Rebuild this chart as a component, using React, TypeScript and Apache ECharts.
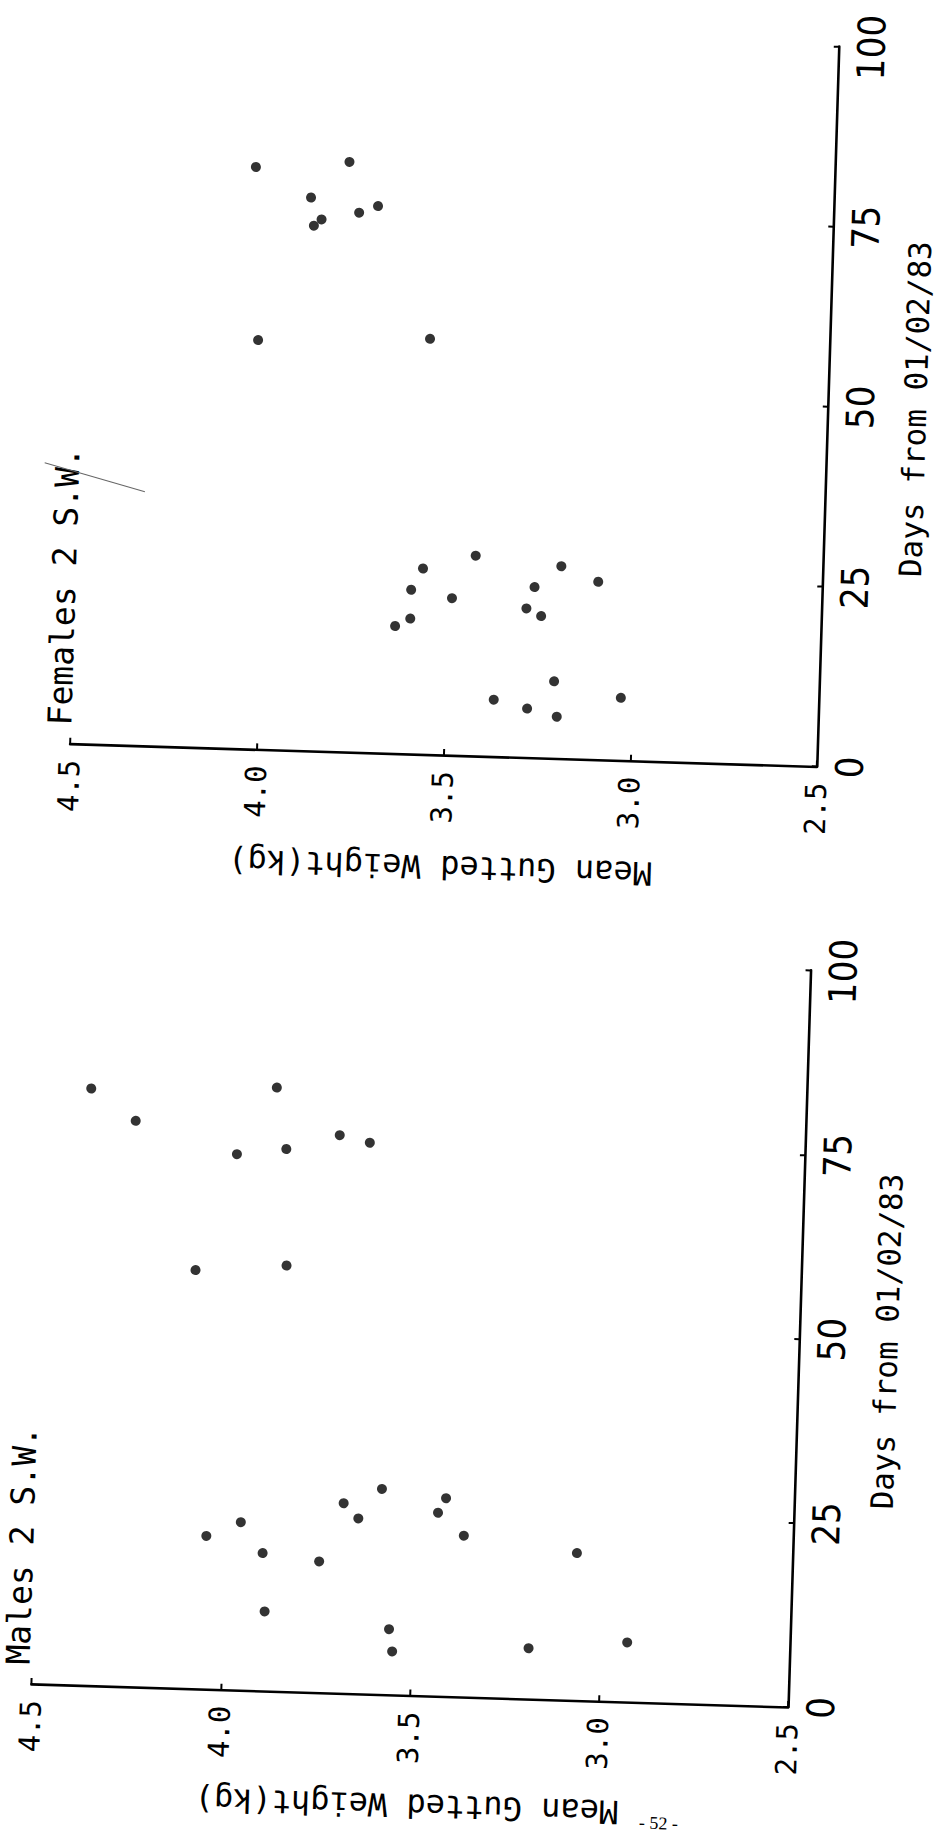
import React, { useEffect, useRef } from "react";
import * as echarts from "echarts";

// ---- data ----
const dayTicks = [0, 25, 50, 75, 100];
const weightTicks = [2.5, 3.0, 3.5, 4.0, 4.5];

const femaleDays = [80.8, 81.9, 76.8, 72.9, 73.8, 74.9, 75.9, 56.8, 57.7, 17.7, 18.8, 22.8, 25.8, 21.8, 27.8, 20.7, 19.7, 23.7, 26.7, 24.7, 7.9, 6.8, 5.8, 10.7, 8.7];
const femaleWeight = [4.05, 3.8, 3.9, 3.89, 3.87, 3.77, 3.72, 4.03, 3.57, 3.64, 3.6, 3.6, 3.57, 3.49, 3.43, 3.29, 3.25, 3.27, 3.2, 3.1, 3.37, 3.28, 3.2, 3.21, 3.03];

const maleDays = [81.0, 76.8, 72.7, 73.6, 75.7, 74.8, 81.9, 56.8, 57.8, 20.8, 22.8, 18.7, 17.8, 25.8, 23.8, 27.9, 24.9, 26.9, 21.9, 20.0, 10.8, 8.9, 5.9, 6.9, 8.1];
const maleWeight = [4.39, 4.27, 4.0, 3.87, 3.73, 3.65, 3.9, 4.1, 3.86, 4.05, 3.96, 3.9, 3.75, 3.69, 3.65, 3.59, 3.44, 3.42, 3.37, 3.07, 3.89, 3.56, 3.55, 3.19, 2.93];

const femaleTitle = "Females 2 S.W.";
const maleTitle = "Males 2 S.W.";
const daysName = "Days from 01/02/83";
const weightName = "Mean Gutted Weight(kg)";
const pageNumber = "- 52 -";

const MONO = "'DejaVu Sans Mono', 'Liberation Mono', monospace";
const NARROW = "'Liberation Sans Narrow', 'DejaVu Sans Condensed', sans-serif";

function weightAxis(gridIndex: number, gap: number) {
  return {
    type: "value",
    gridIndex,
    min: weightTicks[0],
    max: weightTicks[weightTicks.length - 1],
    interval: 0.5,
    inverse: true,
    position: "bottom",
    name: weightName,
    nameLocation: "middle",
    nameRotate: 180,
    nameGap: gap,
    nameTextStyle: { fontFamily: MONO, fontSize: 32, color: "#000" },
    axisLine: { show: true, onZero: false, lineStyle: { color: "#000", width: 2.6 } },
    axisTick: { show: true, inside: true, length: 6, lineStyle: { color: "#000", width: 2 } },
    axisLabel: {
      rotate: 90,
      margin: 16,
      fontFamily: MONO,
      fontSize: 29,
      color: "#000",
      formatter: (v: number) => v.toFixed(1),
    },
    splitLine: { show: false },
  };
}

function daysAxis(gridIndex: number) {
  return {
    type: "value",
    gridIndex,
    min: dayTicks[0],
    max: dayTicks[dayTicks.length - 1],
    interval: 25,
    position: "right",
    name: daysName,
    nameLocation: "middle",
    nameRotate: 90,
    nameGap: 72,
    nameTextStyle: { fontFamily: MONO, fontSize: 31, color: "#000" },
    axisLine: { show: true, onZero: false, lineStyle: { color: "#000", width: 2.6 } },
    axisTick: { show: true, inside: true, length: 5, lineStyle: { color: "#000", width: 2 } },
    axisLabel: { rotate: 90, margin: 14, fontFamily: NARROW, fontSize: 38, color: "#000" },
    splitLine: { show: false },
  };
}

export default function App() {
  const ref = useRef<HTMLDivElement>(null);

  useEffect(() => {
    if (!ref.current) return;
    const chart = echarts.init(ref.current, undefined, { renderer: "svg", width: 943, height: 1836 });
    chart.setOption({
      animation: false,
      backgroundColor: "#fff",
      grid: [
        { left: 65, top: 18, width: 747, height: 738 },
        { left: 55, top: 960, width: 757, height: 737 },
      ],
      xAxis: [weightAxis(0, 96), weightAxis(1, 94)],
      yAxis: [daysAxis(0), daysAxis(1)],
      series: [
        {
          type: "scatter",
          name: "Females",
          xAxisIndex: 0,
          yAxisIndex: 0,
          symbol: "circle",
          symbolSize: 10,
          itemStyle: { color: "#000" },
          data: femaleWeight.map((w, i) => [w, femaleDays[i]]),
        },
        {
          type: "scatter",
          name: "Males",
          xAxisIndex: 1,
          yAxisIndex: 1,
          symbol: "circle",
          symbolSize: 10,
          itemStyle: { color: "#000" },
          data: maleWeight.map((w, i) => [w, maleDays[i]]),
        },
      ],
      graphic: [
        {
          type: "text",
          x: 54,
          y: 738,
          rotation: Math.PI / 2,
          style: { text: femaleTitle, fontFamily: MONO, fontSize: 33, fill: "#000", align: "left", verticalAlign: "middle" },
        },
        {
          type: "text",
          x: 41,
          y: 1678,
          rotation: Math.PI / 2,
          style: { text: maleTitle, fontFamily: MONO, fontSize: 33, fill: "#000", align: "left", verticalAlign: "middle" },
        },
        {
          type: "line",
          shape: { x1: 31, y1: 476, x2: 132, y2: 502 },
          style: { stroke: "#666", lineWidth: 1 },
        },
        {
          type: "text",
          x: 686,
          y: 1826,
          style: { text: pageNumber, fontFamily: "'Liberation Serif', serif", fontSize: 18, fill: "#000", align: "center", verticalAlign: "bottom" },
        },
      ],
    });
    return () => chart.dispose();
  }, []);

  return (
    <div style={{ position: "fixed", left: 0, top: 0, width: 943, height: 1836, overflow: "hidden", background: "#fff" }}>
      <div
        ref={ref}
        style={{
          position: "absolute",
          left: 0,
          top: 0,
          width: 943,
          height: 1836,
          transform: "rotate(1.75deg)",
          transformOrigin: "471.5px 918px",
        }}
      />
    </div>
  );
}
